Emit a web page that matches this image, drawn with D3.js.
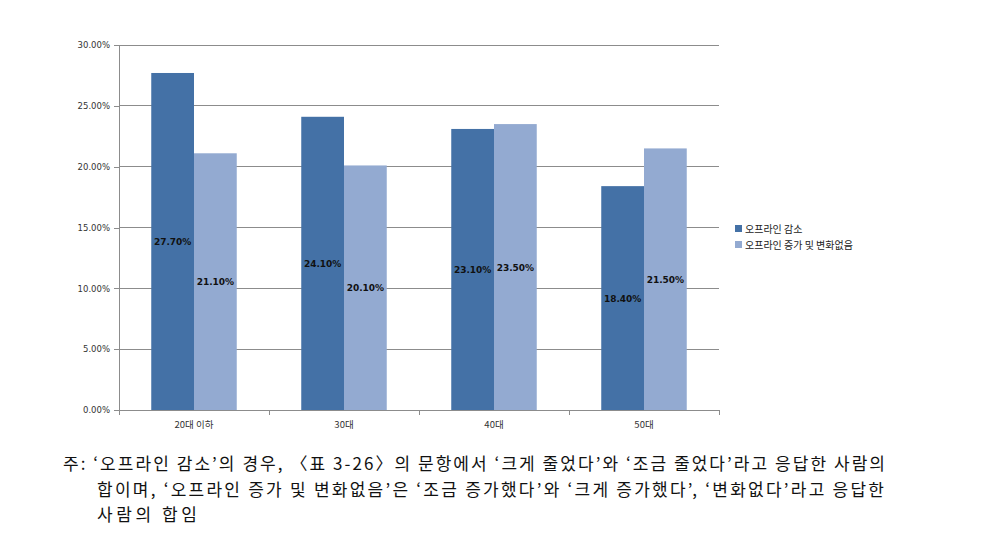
<!DOCTYPE html>
<html><head><meta charset="utf-8">
<script src="https://cdn.jsdelivr.net/npm/d3@7/dist/d3.min.js"></script>
<style>body{margin:0;background:#fff}svg{display:block}</style>
</head><body><svg id="c" width="999" height="543"></svg>
<script>
const categories = ["20대 이하", "30대", "40대", "50대"];
const seriesNames = ["오프라인 감소", "오프라인 증가 및 변화없음"];
const decrease = [27.7, 24.1, 23.1, 18.4];
const increase = [21.1, 20.1, 23.5, 21.5];
const yTicks = [0, 5, 10, 15, 20, 25, 30];
const colors = ["#4471a6", "#93aad1"];
const noteLines = [
  "주: ‘오프라인 감소’의 경우, 〈표 3-26〉의 문항에서 ‘크게 줄었다’와 ‘조금 줄었다’라고 응답한 사람의",
  "합이며, ‘오프라인 증가 및 변화없음’은 ‘조금 증가했다’와 ‘크게 증가했다’, ‘변화없다’라고 응답한",
  "사람의 합임"
];

const svg = d3.select("#c");
const L = 119, R = 719, T = 45, B = 410;
const x = d3.scaleBand().domain(categories).range([L, R]).paddingInner(0.43).paddingOuter(0.215);
const xs = d3.scaleBand().domain([0, 1]).range([0, x.bandwidth()]);
const y = d3.scaleLinear().domain([0, 30]).range([B, T]);

// gridlines
svg.append("g").selectAll("line").data(yTicks.slice(1)).join("line")
  .attr("x1", L).attr("x2", R).attr("y1", d => y(d)).attr("y2", d => y(d))
  .attr("stroke", "#8c8c8c").attr("stroke-width", 1).attr("shape-rendering", "crispEdges");

// y axis
const ya = svg.append("g").attr("transform", `translate(${L},0)`)
  .call(d3.axisLeft(y).tickValues(yTicks).tickFormat(d => d.toFixed(2) + "%").tickSize(5).tickPadding(4));
ya.select(".domain").attr("stroke", "#8c8c8c").attr("shape-rendering", "crispEdges");
ya.selectAll(".tick line").attr("stroke", "#8c8c8c").attr("shape-rendering", "crispEdges");
ya.selectAll("text").attr("font-family", "DejaVu Sans, sans-serif").attr("font-size", 8.5).attr("fill", "#333");

// x axis
const xa = svg.append("g").attr("transform", `translate(0,${B})`)
  .call(d3.axisBottom(x).tickSize(0).tickPadding(11));
xa.select(".domain").attr("stroke", "#8c8c8c").attr("shape-rendering", "crispEdges");
xa.selectAll("text").attr("font-family", "Noto Sans CJK KR, sans-serif").attr("font-size", 9.5).attr("fill", "#333");
svg.append("g").selectAll("line").data(d3.range(categories.length + 1)).join("line")
  .attr("x1", i => L + i * (R - L) / categories.length).attr("x2", i => L + i * (R - L) / categories.length)
  .attr("y1", B).attr("y2", B + 5).attr("stroke", "#8c8c8c").attr("shape-rendering", "crispEdges");

// bars
const series = [decrease, increase];
series.forEach((vals, si) => {
  const g = svg.append("g");
  g.selectAll("rect").data(vals).join("rect")
    .attr("x", (d, i) => x(categories[i]) + xs(si))
    .attr("width", xs.bandwidth())
    .attr("y", d => y(d)).attr("height", d => B - y(d))
    .attr("fill", colors[si]);
  g.selectAll("text").data(vals).join("text")
    .attr("x", (d, i) => x(categories[i]) + xs(si) + xs.bandwidth() / 2)
    .attr("y", d => (y(d) + B) / 2 + 3.5)
    .attr("text-anchor", "middle")
    .attr("font-family", "DejaVu Sans, sans-serif").attr("font-weight", "bold")
    .attr("font-size", 9).attr("fill", "#111")
    .text(d => d.toFixed(2) + "%");
});

// legend
const lg = svg.append("g").attr("transform", "translate(735,225)");
seriesNames.forEach((n, i) => {
  lg.append("rect").attr("x", 0).attr("y", i * 16).attr("width", 7).attr("height", 7).attr("fill", colors[i]);
  lg.append("text").attr("x", 10).attr("y", i * 16 + 8)
    .attr("font-family", "Noto Sans CJK KR, sans-serif").attr("font-size", 10).attr("fill", "#222").text(n);
});

// note
const noteLen = [822, 787, 100];
svg.append("g").selectAll("text").data(noteLines).join("text")
  .attr("x", (d, i) => i === 0 ? 63 : 97)
  .attr("y", (d, i) => 470 + i * 25.5)
  .attr("font-family", "Noto Sans CJK KR, sans-serif").attr("font-size", 17).attr("fill", "#111")
  .attr("textLength", (d, i) => noteLen[i]).attr("lengthAdjust", "spacing")
  .text(d => d);
</script></body></html>
